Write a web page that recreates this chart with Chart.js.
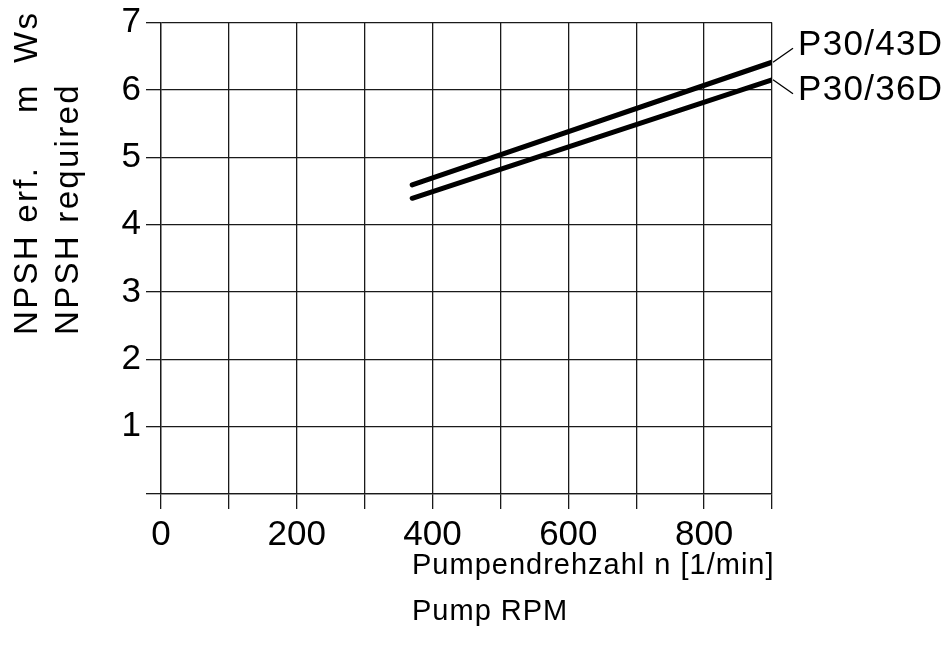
<!DOCTYPE html>
<html>
<head>
<meta charset="utf-8">
<script src="https://cdn.jsdelivr.net/npm/chart.js@4"></script>
<style>
  html, body { margin: 0; padding: 0; background: #fff; }
  #wrap { width: 947px; height: 647px; }
</style>
</head>
<body>
<div id="wrap"><canvas id="npsh"></canvas></div>
<script>
// pump speed (1/min) and required NPSH (m Ws)
var rpm = [370, 900];
var npsh43 = [4.59, 6.41];
var npsh36 = [4.39, 6.15];
var seriesNames = ['P30/43D', 'P30/36D'];
var xTitle = ['Pumpendrehzahl n [1/min]', 'Pump RPM'];
var yTitle1 = ['NPSH erf.', 'm', 'Ws'];
var yTitle2 = 'NPSH required';

var FONT = '"Liberation Sans", "DejaVu Sans", sans-serif';

function toPoints(xs, ys) {
    var pts = [];
    for (var i = 0; i < xs.length; i++) {
        pts.push({x: xs[i], y: ys[i]});
    }
    return pts;
}

// axis titles and the labels at the line ends
var annotations = {
    id: 'annotations',
    afterDraw: function(chart) {
        var ctx = chart.ctx;
        var xs = chart.scales.x, ys = chart.scales.y;
        ctx.save();
        ctx.fillStyle = '#000';
        ctx.strokeStyle = '#000';
        ctx.lineWidth = 1.3;

        // series labels with leader lines
        ctx.font = '35px ' + FONT;
        ctx.letterSpacing = '1.3px';
        ctx.textBaseline = 'middle';
        ctx.textAlign = 'left';
        chart.data.datasets.forEach(function(ds, i) {
            var last = ds.data[ds.data.length - 1];
            var px = xs.getPixelForValue(last.x);
            var py = ys.getPixelForValue(last.y);
            var dy = i === 0 ? -14 : 14;
            ctx.beginPath();
            ctx.moveTo(px + 1, py);
            ctx.lineTo(px + 21, py + dy);
            ctx.stroke();
            ctx.fillText(ds.label, px + 26, py + dy - 3);
        });

        // x title, left aligned
        ctx.font = '29px ' + FONT;
        ctx.letterSpacing = '1px';
        ctx.textBaseline = 'alphabetic';
        ctx.fillText(xTitle[0], 412, 574);
        ctx.fillText(xTitle[1], 412, 620);

        // y title, rotated (bottom to top)
        ctx.font = '33px ' + FONT;
        ctx.letterSpacing = '2.3px';
        ctx.translate(0, 335);
        ctx.rotate(-Math.PI / 2);
        ctx.fillText(yTitle1[0], 0, 37);
        ctx.fillText(yTitle1[1], 335 - 113, 37);
        ctx.fillText(yTitle1[2], 335 - 63, 37);
        ctx.fillText(yTitle2, 0, 78);
        ctx.restore();
    }
};

var ctx = document.getElementById('npsh').getContext('2d');

var gridStyle = {
    color: '#1a1a1a',
    lineWidth: 1.3,
    tickLength: 15,
    tickColor: '#1a1a1a'
};

var myChart = new Chart(ctx, {
    type: 'scatter',
    data: {
        datasets: [{
            label: seriesNames[0],
            data: toPoints(rpm, npsh43),
            showLine: true,
            borderColor: '#000',
            borderWidth: 5,
            borderCapStyle: 'round',
            pointRadius: 0
        }, {
            label: seriesNames[1],
            data: toPoints(rpm, npsh36),
            showLine: true,
            borderColor: '#000',
            borderWidth: 5,
            borderCapStyle: 'round',
            pointRadius: 0
        }]
    },
    options: {
        responsive: true,
        maintainAspectRatio: false,
        animation: false,
        layout: {
            padding: {top: 22, right: 175, bottom: 0, left: 0}
        },
        plugins: {
            legend: {display: false},
            tooltip: {enabled: false}
        },
        scales: {
            x: {
                type: 'linear',
                min: 0,
                max: 900,
                grid: gridStyle,
                border: {display: true, color: '#1a1a1a', width: 1.3},
                afterFit: function(scale) { scale.height = 153; },
                ticks: {
                    stepSize: 100,
                    autoSkip: false,
                    maxRotation: 0,
                    padding: 9,
                    color: '#000',
                    font: {family: FONT, size: 35, lineHeight: 1},
                    callback: function(v) { return v % 200 === 0 ? v : ''; }
                }
            },
            y: {
                type: 'linear',
                min: 0,
                max: 7,
                grid: gridStyle,
                border: {display: true, color: '#1a1a1a', width: 1.3},
                afterFit: function(scale) { scale.width = 161; },
                ticks: {
                    stepSize: 1,
                    padding: 5,
                    color: '#000',
                    font: {family: FONT, size: 35, lineHeight: 1},
                    callback: function(v) { return v === 0 ? '' : v; }
                }
            }
        }
    },
    plugins: [annotations]
});
</script>
</body>
</html>
